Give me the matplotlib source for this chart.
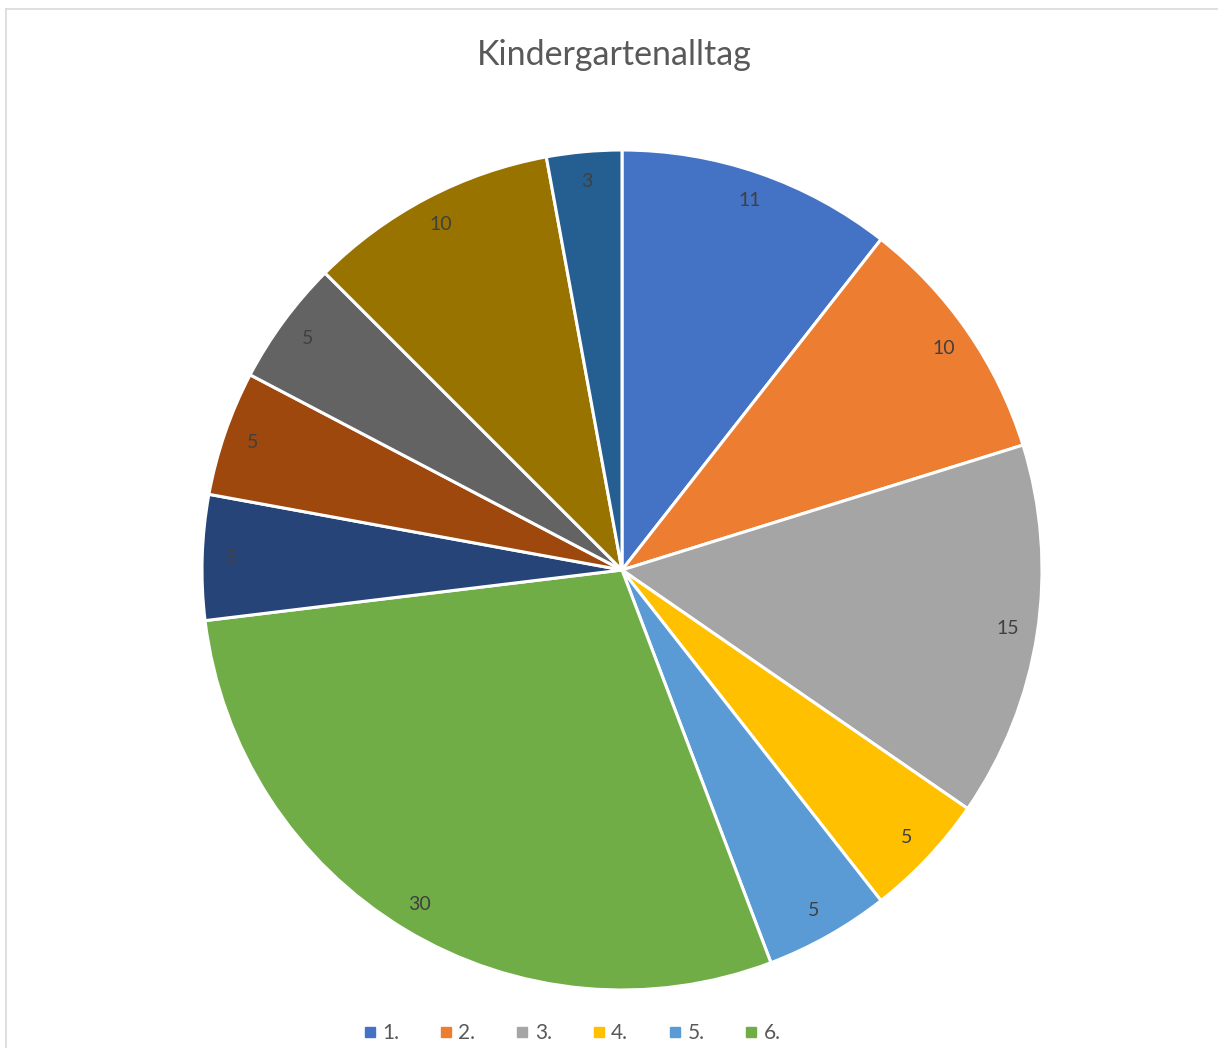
import matplotlib
matplotlib.use("Agg")
import matplotlib.pyplot as plt
from matplotlib.lines import Line2D

title = "Kindergartenalltag"
categories = ["1.", "2.", "3.", "4.", "5.", "6.", "7.", "8.", "9.", "10.", "11."]
values = [11, 10, 15, 5, 5, 30, 5, 5, 5, 10, 3]
colors = ["#4472C4", "#ED7D31", "#A5A5A5", "#FFC000", "#5B9BD5", "#70AD47",
          "#264478", "#9E480E", "#636363", "#997300", "#255E91"]
legend_count = 6

plt.rcParams['font.family'] = ['Lato', 'DejaVu Sans']

W, H = 1218, 1048
fig = plt.figure(figsize=(W / 100, H / 100), dpi=100)

cx, cy, r = 622, 570, 420
ax = fig.add_axes([(cx - r) / W, 1 - (cy + r) / H, 2 * r / W, 2 * r / H])
wedges, texts = ax.pie(values, colors=colors, startangle=90, counterclock=False,
                       labels=[str(v) for v in values], labeldistance=0.93,
                       radius=1.0,
                       wedgeprops=dict(edgecolor="white", linewidth=2.2),
                       textprops=dict(color="#404040", fontsize=14))
for t in texts:
    t.set_horizontalalignment("center")
    t.set_verticalalignment("center")
ax.set_xlim(-1, 1)
ax.set_ylim(-1, 1)
ax.set_aspect("equal")
ax.axis("off")

fig.text(614 / W, 1 - 55 / H, title, ha="center", va="center",
         fontsize=24.5, color="#595959")

# chart border (top and left visible)
fig.add_artist(Line2D([6 / W, 1], [1 - 9 / H, 1 - 9 / H], color="#D9D9D9", lw=1.2))
fig.add_artist(Line2D([6 / W, 6 / W], [0, 1 - 9 / H], color="#D9D9D9", lw=1.2))

handles = [Line2D([0], [0], marker="s", linestyle="none", markersize=7,
                  markerfacecolor=colors[i], markeredgecolor=colors[i])
           for i in range(legend_count)]
fig.legend(handles, categories[:legend_count], loc="center",
           bbox_to_anchor=(570 / W, 1 - 1033 / H), ncol=legend_count,
           frameon=False, fontsize=15, handletextpad=0.1, columnspacing=1.75,
           handlelength=1.0, labelcolor="#595959")

fig.savefig("out.png", dpi=100, facecolor="white")
